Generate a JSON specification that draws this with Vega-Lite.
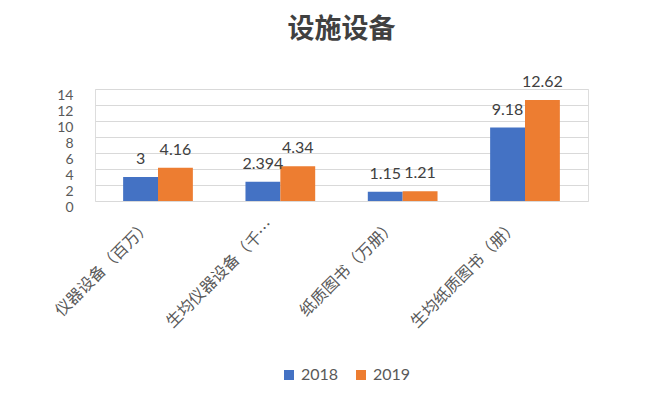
{
  "$schema": "https://vega.github.io/schema/vega-lite/v6.json",
  "width": 493,
  "height": 112,
  "autosize": {"type": "none"},
  "padding": {"left": 95, "top": 89, "right": 74, "bottom": 198},
  "background": "white",
  "title": {
    "text": "设施设备",
    "font": "Noto Sans CJK SC",
    "fontSize": 27,
    "fontWeight": "bold",
    "color": "#404040",
    "anchor": "middle",
    "offset": 30
  },
  "data": {
    "values": [
      {"category": "仪器设备（百万）", "year": "2018", "value": 3, "label": "3"},
      {"category": "仪器设备（百万）", "year": "2019", "value": 4.16, "label": "4.16"},
      {"category": "生均仪器设备（千元）", "year": "2018", "value": 2.394, "label": "2.394"},
      {"category": "生均仪器设备（千元）", "year": "2019", "value": 4.34, "label": "4.34"},
      {"category": "纸质图书（万册）", "year": "2018", "value": 1.15, "label": "1.15"},
      {"category": "纸质图书（万册）", "year": "2019", "value": 1.21, "label": "1.21"},
      {"category": "生均纸质图书（册）", "year": "2018", "value": 9.18, "label": "9.18"},
      {"category": "生均纸质图书（册）", "year": "2019", "value": 12.62, "label": "12.62"}
    ]
  },
  "encoding": {
    "x": {
      "field": "category",
      "type": "nominal",
      "sort": null,
      "scale": {"paddingInner": 0.43, "paddingOuter": 0.23},
      "axis": {
        "title": null,
        "labelAngle": -45,
        "labelFont": "Noto Sans CJK SC",
        "labelFontSize": 16,
        "labelColor": "#595959",
        "labelLimit": 148,
        "labelPadding": 16,
        "labelOffset": -15,
        "ticks": false,
        "domain": false,
        "grid": false
      }
    },
    "xOffset": {"field": "year", "type": "nominal"},
    "y": {
      "field": "value",
      "type": "quantitative",
      "scale": {"domain": [0, 14]},
      "axis": {
        "title": null,
        "values": [0, 2, 4, 6, 8, 10, 12, 14],
        "labelOverlap": false,
        "labelFont": "Lato",
        "labelFontSize": 14,
        "labelColor": "#595959",
        "labelPadding": 22,
        "labelOffset": 6,
        "ticks": false,
        "domain": false,
        "gridColor": "#D9D9D9",
        "gridWidth": 1
      }
    }
  },
  "layer": [
    {
      "mark": {"type": "bar"},
      "encoding": {
        "color": {
          "field": "year",
          "type": "nominal",
          "scale": {"domain": ["2018", "2019"], "range": ["#4472C4", "#ED7D31"]},
          "legend": {
            "title": null,
            "orient": "none",
            "legendX": 186,
            "legendY": 278,
            "direction": "horizontal",
            "symbolType": "square",
            "symbolSize": 100,
            "labelFont": "Lato",
            "labelFontSize": 16,
            "labelColor": "#595959",
            "columnPadding": 14
          }
        }
      }
    },
    {
      "mark": {
        "type": "text",
        "baseline": "bottom",
        "dy": -10,
        "font": "Lato",
        "fontSize": 16,
        "color": "#404040"
      },
      "encoding": {
        "text": {"field": "label"}
      }
    }
  ]
}
